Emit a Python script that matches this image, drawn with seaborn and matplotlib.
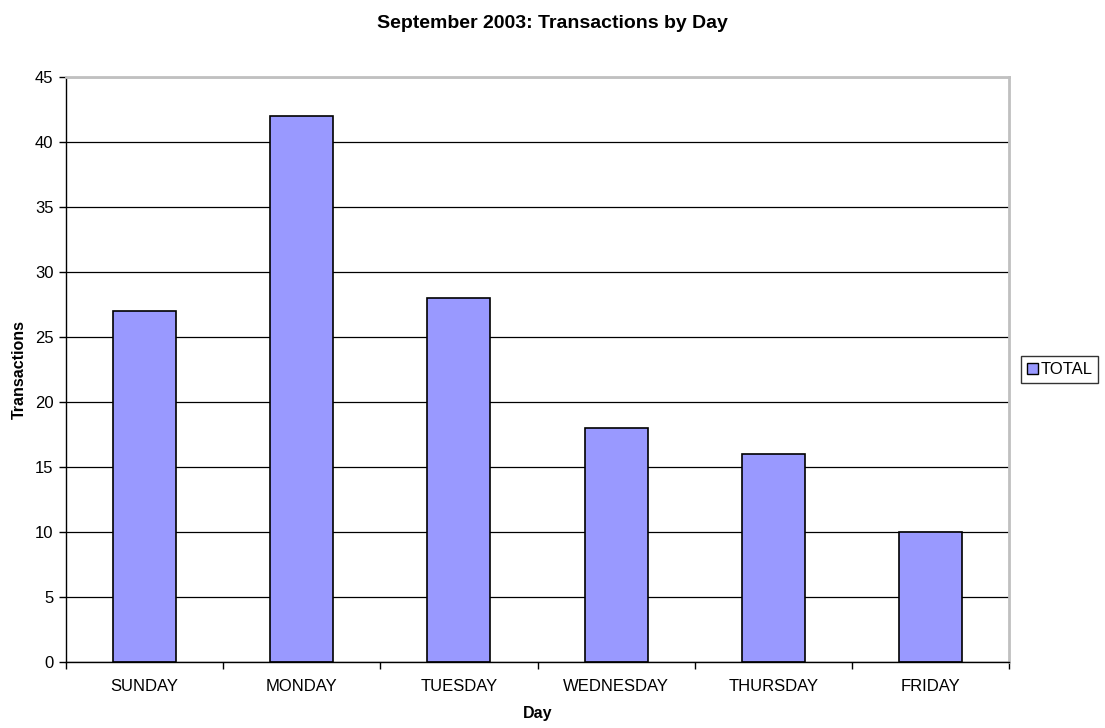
import numpy as np
import pandas as pd
import matplotlib
matplotlib.use("Agg")
import matplotlib.pyplot as plt
import seaborn as sns
from matplotlib.patches import Patch

# --------------------------------------------------------------
# Data
# --------------------------------------------------------------
days = ["SUNDAY", "MONDAY", "TUESDAY", "WEDNESDAY", "THURSDAY", "FRIDAY"]
transactions = [27, 42, 28, 18, 16, 10]
series_name = "TOTAL"

df = pd.DataFrame({"Day": days, "Transactions": transactions})

# --------------------------------------------------------------
# Plot
# --------------------------------------------------------------
sns.set_style("white")
plt.rcParams["font.family"] = ["Liberation Sans", "DejaVu Sans"]
plt.rcParams["text.color"] = "black"
plt.rcParams["axes.labelcolor"] = "black"
plt.rcParams["xtick.color"] = "black"
plt.rcParams["ytick.color"] = "black"

fig = plt.figure(figsize=(11.05, 7.28), dpi=100)
ax = fig.add_axes([0.0597, 0.0907, 0.8535, 0.8036])

bar_color = "#9999FF"
sns.barplot(data=df, x="Day", y="Transactions", color=bar_color,
            width=0.4, edgecolor="black", linewidth=1.2, saturation=1, ax=ax)

ax.set_xlim(-0.5, len(days) - 0.5)
ax.set_ylim(0, 45)
ax.set_yticks(np.arange(0, 46, 5))
ax.yaxis.grid(True, color="black", linewidth=0.9)
ax.set_axisbelow(True)

# category boundary ticks on the x axis
ax.set_xticks(np.arange(-0.5, len(days), 1), minor=True)
ax.tick_params(axis="x", which="major", length=0, labelsize=12, pad=12)
ax.tick_params(axis="x", which="minor", length=5, width=1, color="black",
               direction="out", bottom=True)
ax.tick_params(axis="y", length=5, width=1, color="black", direction="out",
               left=True, labelsize=12, pad=4)

for side in ["left", "bottom"]:
    ax.spines[side].set_color("black")
    ax.spines[side].set_linewidth(1)
for side in ["top", "right"]:
    ax.spines[side].set_visible(True)
    ax.spines[side].set_color("#c0c0c0")
    ax.spines[side].set_linewidth(2)

ax.set_xlabel("Day", fontsize=11.5, fontweight="bold", labelpad=9)
ax.set_ylabel("Transactions", fontsize=11.5, fontweight="bold", labelpad=6)
fig.suptitle("September 2003: Transactions by Day", fontsize=14,
             fontweight="bold", y=0.98)

legend_handles = [Patch(facecolor=bar_color, edgecolor="black", label=series_name)]
leg = fig.legend(handles=legend_handles, loc="center left",
                 bbox_to_anchor=(0.924, 0.492), frameon=True, fancybox=False,
                 fontsize=12, handlelength=0.65, handleheight=0.65,
                 handletextpad=0.15, borderpad=0.35, borderaxespad=0)
leg.get_frame().set_edgecolor("black")
leg.get_frame().set_linewidth(1)

fig.savefig("out.png", dpi=100)
